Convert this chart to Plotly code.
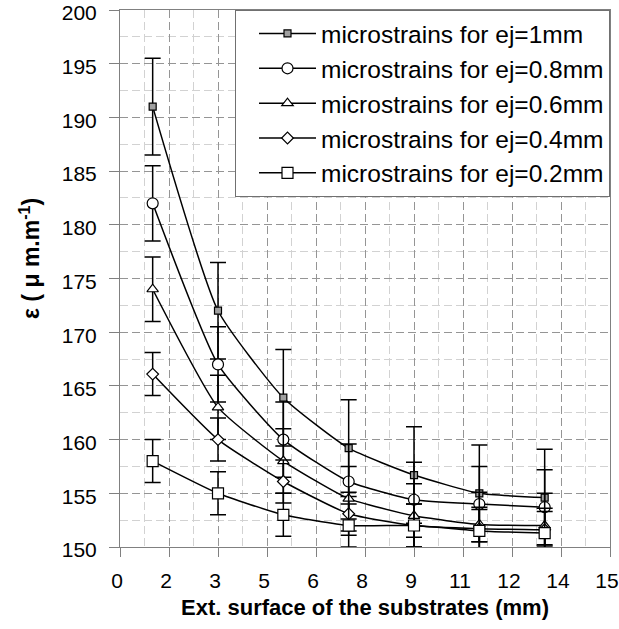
import plotly.graph_objects as go

x_vals = [1, 3, 5, 7, 9, 11, 13]

series_names = [
    "microstrains for ej=1mm",
    "microstrains for ej=0.8mm",
    "microstrains for ej=0.6mm",
    "microstrains for ej=0.4mm",
    "microstrains for ej=0.2mm",
]
y_ej1 = [191.0, 172.0, 163.9, 159.2, 156.7, 155.0, 154.6]
y_ej08 = [182.0, 167.0, 160.0, 156.1, 154.4, 154.0, 153.7]
y_ej06 = [174.0, 163.0, 158.0, 154.5, 152.9, 152.1, 152.0]
y_ej04 = [166.1, 160.0, 156.1, 153.1, 152.0, 151.7, 151.6]
y_ej02 = [158.0, 155.0, 153.0, 152.0, 152.0, 151.5, 151.3]
err_values = [4.5, 3.5, 3.0, 2.0, 2.0]

x_tick_vals = [0, 1.5, 3, 4.5, 6, 7.5, 9, 10.5, 12, 13.5, 15]
x_tick_text = ["0", "2", "3", "5", "6", "8", "9", "11", "12", "14", "15"]
y_tick_vals = [150, 155, 160, 165, 170, 175, 180, 185, 190, 195, 200]

x_title = "<b>Ext. surface of the substrates (mm)</b>"
y_title = "<b>ε ( μ m.m<sup>-1</sup>)</b>"

symbols = ["square", "circle", "triangle-up", "diamond", "square"]
sizes = [7, 11, 10, 9, 11]
fills = ["#a0a0a0", "white", "white", "white", "white"]

fig = go.Figure()
for name, ys, err, sym, sz, fc in zip(series_names, [y_ej1, y_ej08, y_ej06, y_ej04, y_ej02],
                                      err_values, symbols, sizes, fills):
    fig.add_trace(go.Scatter(
        x=x_vals, y=ys, name=name, mode="lines+markers",
        line=dict(color="black", width=1.5, shape="spline", smoothing=0.5),
        marker=dict(symbol=sym, size=sz, color=fc, line=dict(color="black", width=1.2)),
        error_y=dict(type="constant", value=err, color="black", thickness=1.5, width=8),
        cliponaxis=False,
    ))

grid_major = "#959595"
grid_minor = "#d2d2d2"
dash_pat = "8px,4px"
fig.update_layout(
    width=619, height=629,
    margin=dict(l=120, r=9, t=10, b=82),
    paper_bgcolor="white", plot_bgcolor="white",
    font=dict(family="Liberation Sans, Arial, sans-serif", color="black"),
    showlegend=True,
    legend=dict(x=1, y=1, xanchor="right", yanchor="top",
                bgcolor="white", bordercolor="#707070", borderwidth=1,
                font=dict(size=24.5), tracegroupgap=0, indentation=18, itemwidth=57),
    xaxis=dict(
        range=[0, 15], tickvals=x_tick_vals, ticktext=x_tick_text,
        tickfont=dict(size=21), ticks="outside", ticklen=9, tickcolor="#808080",
        ticklabeloverflow="allow", ticklabelstandoff=6, ticklabelshift=-3, automargin=False,
        showline=True, linecolor="#808080", linewidth=1, mirror=True,
        showgrid=True, gridcolor=grid_major, griddash=dash_pat, gridwidth=1,
        minor=dict(dtick=0.75, tick0=0, showgrid=True, gridcolor=grid_minor, griddash=dash_pat),
        zeroline=False,
        title=dict(text=x_title, font=dict(size=22), standoff=8),
    ),
    yaxis=dict(
        range=[150, 200], tickvals=y_tick_vals,
        tickfont=dict(size=21), ticks="outside", ticklen=10, tickcolor="#808080",
        ticklabeloverflow="allow", ticklabelstandoff=8, ticklabelshift=3, automargin=False,
        showline=True, linecolor="#808080", linewidth=1, mirror=True,
        showgrid=True, gridcolor=grid_major, griddash=dash_pat, gridwidth=1,
        minor=dict(dtick=2.5, tick0=150, showgrid=True, gridcolor=grid_minor, griddash=dash_pat),
        zeroline=False,
    ),
    annotations=[dict(
        text=y_title, textangle=-90, xref="paper", yref="paper",
        x=-0.184, y=0.538, xanchor="center", yanchor="middle",
        showarrow=False, font=dict(size=23),
    )],
)

fig.write_html("out.html")
